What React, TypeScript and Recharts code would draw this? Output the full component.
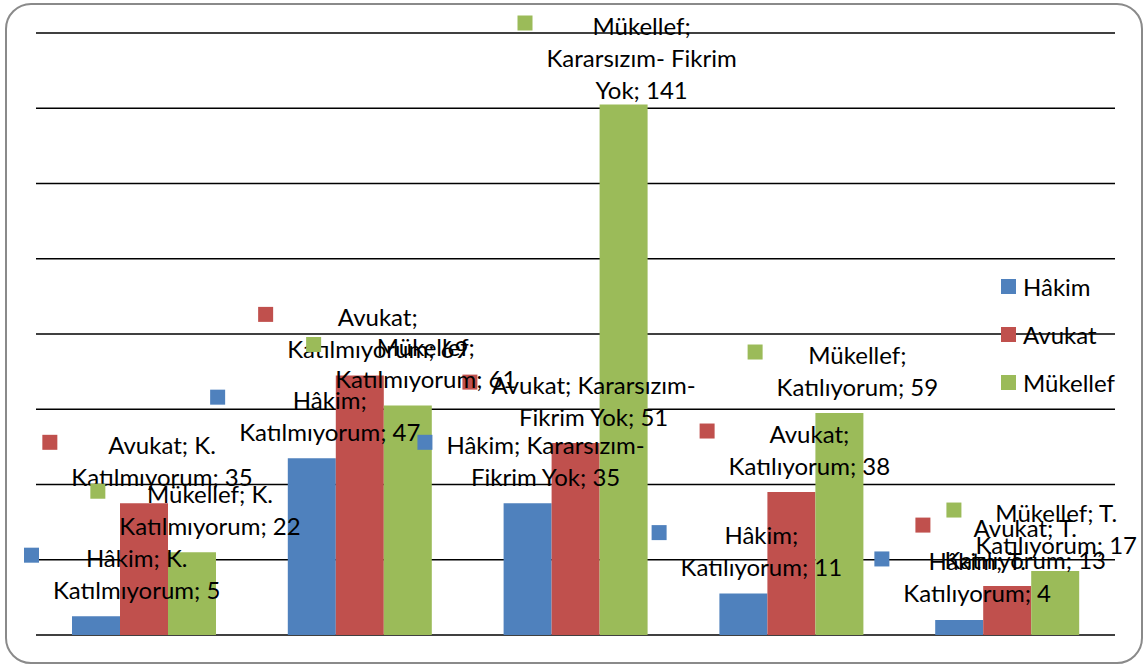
import React from "react";
import { BarChart, Bar, XAxis, YAxis, CartesianGrid, LabelList } from "recharts";

const categories = [
  "K. Katılmıyorum",
  "Katılmıyorum",
  "Kararsızım- Fikrim Yok",
  "Katılıyorum",
  "T. Katılıyorum",
];
const seriesNames = ["Hâkim", "Avukat", "Mükellef"];
const hakim = [5, 47, 35, 11, 4];
const avukat = [35, 69, 51, 38, 13];
const mukellef = [22, 61, 141, 59, 17];
const yTicks = [0, 20, 40, 60, 80, 100, 120, 140, 160];

const colors = ["#4F81BD", "#C0504D", "#9BBB59"];
const FONT = "Lato, 'Noto Sans', sans-serif";
const FS = 24;
const LINE_H = 32;
const WRAP_W = 205;

const data = categories.map((category, i) => ({
  category,
  [seriesNames[0]]: hakim[i],
  [seriesNames[1]]: avukat[i],
  [seriesNames[2]]: mukellef[i],
}));

let ctx: CanvasRenderingContext2D | null = null;
const measure = (s: string) => {
  if (!ctx) ctx = document.createElement("canvas").getContext("2d");
  ctx!.font = `${FS}px Lato`;
  return ctx!.measureText(s).width;
};

// greedy word wrap, like excel does on data labels
const wrap = (s: string) => {
  const lines: string[] = [];
  let cur = "";
  for (const w of s.split(" ")) {
    const t = cur ? cur + " " + w : w;
    if (cur && measure(t) > WRAP_W) {
      lines.push(cur);
      cur = w;
    } else cur = t;
  }
  if (cur) lines.push(cur);
  return lines;
};

const makeLabel = (series: number) => (props: any) => {
  const { x, y, width, value, index } = props;
  const lines = wrap(`${seriesNames[series]}; ${categories[index]}; ${value}`);
  const maxW = Math.max(...lines.map(measure));
  let cx = x + width / 2 + 18;
  const left = cx - maxW / 2 - 29;
  if (left < 24) cx += 24 - left;
  if (cx + maxW / 2 > 1137) cx = 1137 - maxW / 2;
  let y0 = y - 27 - (lines.length - 1) * LINE_H;
  if (y0 < 25) y0 = 25;
  return (
    <g>
      <rect x={cx - maxW / 2 - 29} y={y0 - 9.5} width={15} height={15} fill={colors[series]} />
      {lines.map((l, i) => (
        <text
          key={i}
          x={cx}
          y={y0 + i * LINE_H}
          textAnchor="middle"
          dominantBaseline="central"
          fontFamily={FONT}
          fontSize={FS}
          fill="#000"
        >
          {l}
        </text>
      ))}
    </g>
  );
};

const legendY = [286, 334, 382];

const App = () => {
  return (
    <div style={{ position: "absolute", left: 0, top: 0, width: 1147, height: 666, background: "#fff" }}>
      <div
        style={{
          position: "absolute",
          left: 5,
          top: 3,
          width: 1138,
          height: 661,
          boxSizing: "border-box",
          border: "2px solid #8a8a8a",
          borderRadius: 26,
        }}
      />
      <BarChart
        width={1147}
        height={666}
        data={data}
        margin={{ top: 33, right: 32, bottom: 31, left: 36 }}
        barGap={0}
        barSize={48}
      >
        <CartesianGrid vertical={false} stroke="#000" strokeWidth={1.5} />
        <XAxis dataKey="category" hide />
        <YAxis hide domain={[0, 160]} ticks={yTicks} />
        {seriesNames.map((name, s) => (
          <Bar key={name} dataKey={name} fill={colors[s]} isAnimationActive={false}>
            <LabelList dataKey={name} content={makeLabel(s)} />
          </Bar>
        ))}
      </BarChart>
      {seriesNames.map((name, s) => (
        <div
          key={name}
          style={{
            position: "absolute",
            left: 1001,
            top: legendY[s] - 16,
            height: 32,
            display: "flex",
            alignItems: "center",
            fontFamily: FONT,
            fontSize: FS,
          }}
        >
          <span style={{ width: 15, height: 15, background: colors[s], marginRight: 7 }} />
          {name}
        </div>
      ))}
    </div>
  );
};

export default App;
